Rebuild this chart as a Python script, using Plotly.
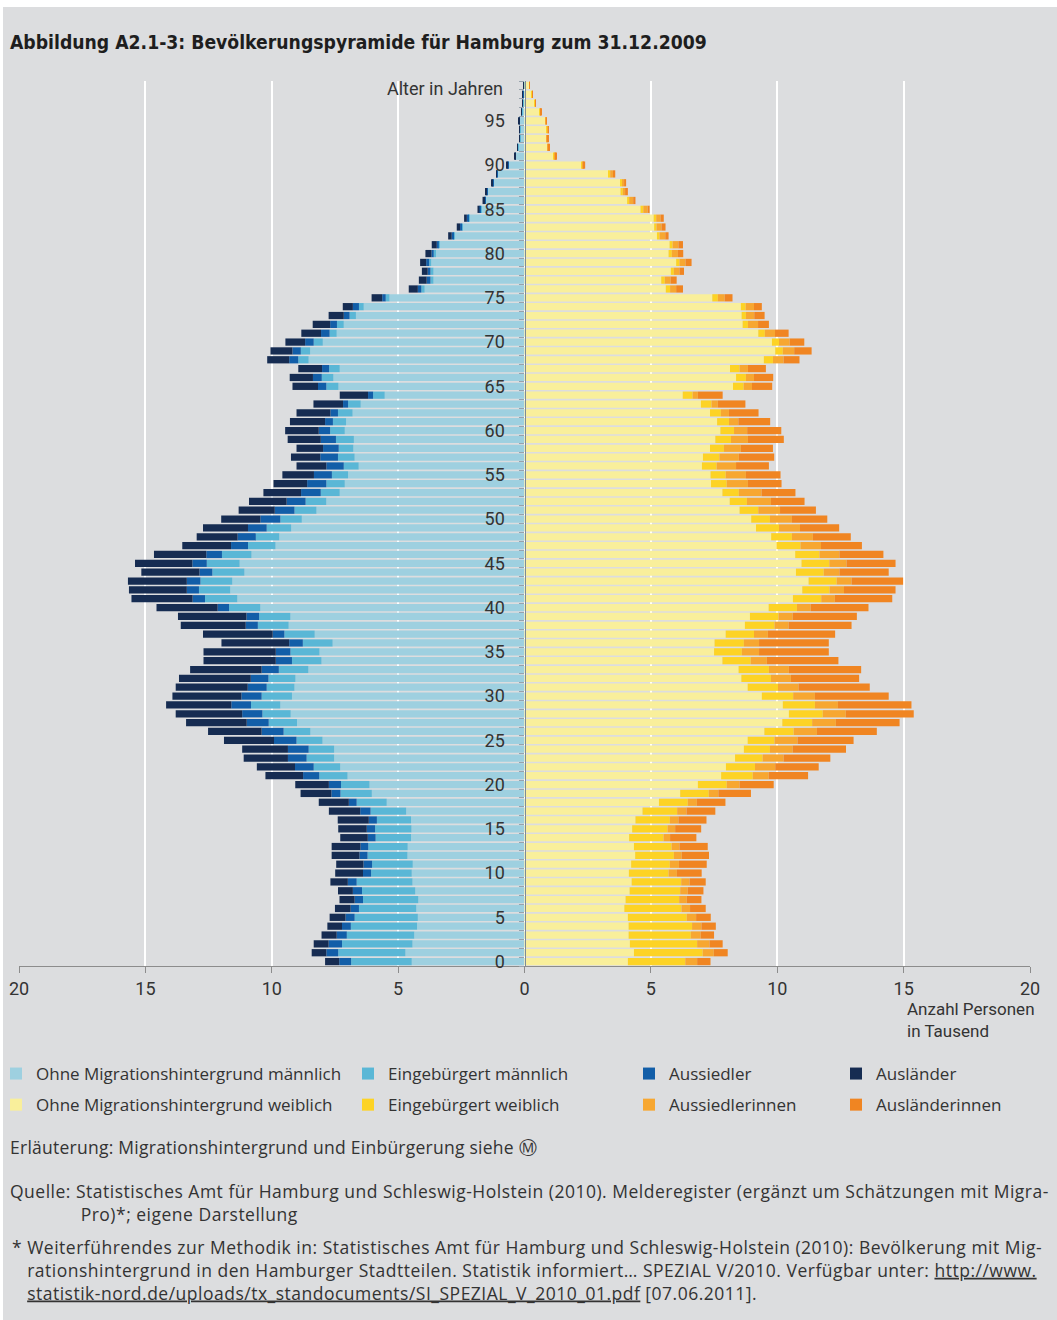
import plotly.graph_objects as go

ages = list(range(100))
age_ticks = list(range(0, 100, 5))

m_ohne = [4.46, 4.71, 4.43, 4.36, 4.25, 4.22, 4.28, 4.20, 4.32, 4.43,
          4.46, 4.42, 4.63, 4.62, 4.49, 4.47, 4.49, 4.68, 5.45, 6.04,
          6.13, 7.00, 7.29, 7.53, 7.53, 7.99, 8.47, 9.00, 9.25, 9.66,
          9.20, 9.10, 9.06, 8.55, 8.03, 8.11, 7.59, 8.30, 9.33, 9.26,
          10.45, 11.36, 11.64, 11.56, 11.08, 11.27, 10.80, 9.85, 9.70, 9.23,
          8.81, 8.23, 7.84, 7.31, 7.11, 6.98, 6.56, 6.72, 6.77, 6.75,
          7.11, 7.06, 6.80, 6.48, 5.53, 7.36, 7.56, 7.31, 8.54, 8.48,
          7.98, 7.43, 7.15, 6.67, 6.36, 5.34, 3.95, 3.60, 3.60, 3.69,
          3.52, 3.35, 2.77, 2.44, 2.18, 1.70, 1.53, 1.45, 1.21, 1.06,
          0.63, 0.34, 0.25, 0.17, 0.17, 0.18, 0.09, 0.05, 0.04, 0.01]
m_eing = [2.40, 2.66, 2.79, 2.67, 2.62, 2.50, 2.27, 2.19, 2.11, 2.21,
          1.61, 1.61, 1.58, 1.56, 1.40, 1.44, 1.35, 1.41, 1.19, 1.24,
          1.13, 1.12, 1.05, 1.09, 1.01, 1.03, 1.06, 1.12, 1.12, 1.16,
          1.20, 1.10, 1.07, 1.17, 1.17, 1.15, 1.18, 1.20, 1.22, 1.24,
          1.24, 1.28, 1.24, 1.26, 1.27, 1.30, 1.17, 1.09, 0.93, 0.97,
          0.85, 0.87, 0.82, 0.75, 0.73, 0.64, 0.59, 0.66, 0.58, 0.71,
          0.58, 0.52, 0.58, 0.50, 0.46, 0.48, 0.46, 0.42, 0.41, 0.37,
          0.36, 0.28, 0.27, 0.25, 0.19, 0.15, 0.13, 0.12, 0.12, 0.08,
          0.07, 0.04, 0.04, 0.03, 0.04, 0.04, 0.03, 0.03, 0.03, 0.01,
          0.02, 0.01, 0.01, 0.01, 0.01, 0.01, 0.01, 0.01, 0.01, 0.01]
m_aussiedler = [0.47, 0.47, 0.53, 0.40, 0.35, 0.36, 0.33, 0.33, 0.36, 0.35,
                0.32, 0.34, 0.32, 0.31, 0.31, 0.33, 0.32, 0.41, 0.31, 0.36,
                0.48, 0.64, 0.74, 0.74, 0.82, 0.89, 0.87, 0.87, 0.80, 0.78,
                0.80, 0.75, 0.70, 0.68, 0.64, 0.58, 0.54, 0.46, 0.48, 0.50,
                0.45, 0.49, 0.48, 0.54, 0.51, 0.57, 0.62, 0.67, 0.72, 0.74,
                0.79, 0.78, 0.75, 0.78, 0.76, 0.71, 0.69, 0.70, 0.62, 0.60,
                0.45, 0.31, 0.30, 0.20, 0.20, 0.33, 0.35, 0.28, 0.36, 0.33,
                0.34, 0.34, 0.27, 0.23, 0.24, 0.14, 0.14, 0.15, 0.11, 0.12,
                0.09, 0.08, 0.07, 0.08, 0.06, 0.04, 0.03, 0.02, 0.03, 0.02,
                0.03, 0.01, 0.01, 0.01, 0.01, 0.01, 0.01, 0.01, 0.01, 0.01]
m_auslaender = [0.56, 0.58, 0.59, 0.60, 0.58, 0.63, 0.62, 0.60, 0.59, 0.69,
                1.10, 1.08, 1.10, 1.14, 1.09, 1.13, 1.23, 1.24, 1.19, 1.22,
                1.33, 1.49, 1.51, 1.75, 1.81, 1.98, 2.12, 2.40, 2.63, 2.58,
                2.73, 2.85, 2.84, 2.83, 2.86, 2.86, 2.68, 2.76, 2.57, 2.71,
                2.42, 2.42, 2.29, 2.33, 2.30, 2.27, 2.07, 1.93, 1.62, 1.78,
                1.55, 1.43, 1.49, 1.49, 1.33, 1.25, 1.18, 1.16, 1.05, 1.31,
                1.33, 1.39, 1.34, 1.17, 1.12, 1.01, 0.92, 0.94, 0.87, 0.87,
                0.78, 0.78, 0.69, 0.60, 0.40, 0.42, 0.36, 0.31, 0.23, 0.24,
                0.24, 0.20, 0.14, 0.13, 0.11, 0.08, 0.07, 0.04, 0.04, 0.03,
                0.03, 0.02, 0.02, 0.02, 0.02, 0.02, 0.01, 0.01, 0.01, 0.01]

w_ohne = [4.09, 4.33, 4.17, 4.12, 4.12, 4.09, 3.95, 4.00, 4.16, 4.24,
          4.13, 4.22, 4.38, 4.33, 4.14, 4.26, 4.39, 4.67, 5.32, 6.16,
          6.86, 7.78, 7.97, 8.33, 8.68, 8.83, 9.49, 10.20, 10.46, 10.22,
          9.39, 8.83, 8.58, 8.47, 7.83, 7.50, 7.52, 7.96, 8.72, 8.92,
          9.66, 10.62, 10.99, 11.24, 10.74, 10.96, 10.71, 9.97, 9.76, 9.16,
          8.97, 8.51, 8.12, 7.83, 7.38, 7.36, 7.02, 7.06, 7.34, 7.55,
          7.75, 7.62, 7.34, 6.98, 6.26, 8.25, 8.37, 8.13, 9.47, 9.92,
          9.79, 9.25, 8.63, 8.59, 8.56, 7.43, 5.59, 5.41, 5.79, 6.00,
          5.70, 5.74, 5.24, 5.13, 5.11, 4.59, 4.06, 3.80, 3.80, 3.34,
          2.24, 1.15, 0.90, 0.87, 0.88, 0.82, 0.61, 0.41, 0.29, 0.18]
w_eing = [2.27, 2.72, 2.66, 2.46, 2.51, 2.33, 2.26, 2.12, 2.00, 1.96,
          1.57, 1.53, 1.53, 1.49, 1.36, 1.40, 1.36, 1.37, 1.14, 1.13,
          1.14, 1.25, 1.15, 1.09, 1.03, 1.06, 1.16, 1.18, 1.34, 1.27,
          1.24, 1.20, 1.17, 1.20, 1.12, 1.10, 1.16, 1.12, 1.17, 1.13,
          1.12, 1.12, 1.08, 1.11, 1.10, 1.10, 0.96, 0.95, 0.82, 0.91,
          0.74, 0.74, 0.68, 0.65, 0.62, 0.60, 0.58, 0.65, 0.55, 0.62,
          0.54, 0.47, 0.43, 0.42, 0.39, 0.42, 0.39, 0.38, 0.36, 0.30,
          0.28, 0.26, 0.21, 0.17, 0.19, 0.22, 0.17, 0.14, 0.12, 0.13,
          0.13, 0.12, 0.10, 0.09, 0.10, 0.11, 0.08, 0.09, 0.07, 0.05,
          0.04, 0.02, 0.02, 0.02, 0.02, 0.02, 0.01, 0.01, 0.01, 0.01]
w_aussiedlerinnen = [0.47, 0.44, 0.49, 0.39, 0.37, 0.37, 0.34, 0.30, 0.30, 0.33,
                     0.33, 0.36, 0.31, 0.31, 0.26, 0.30, 0.34, 0.37, 0.36, 0.38,
                     0.51, 0.63, 0.80, 0.83, 0.90, 0.91, 0.92, 0.94, 0.91, 0.91,
                     0.86, 0.81, 0.79, 0.79, 0.64, 0.68, 0.60, 0.55, 0.56, 0.56,
                     0.54, 0.54, 0.57, 0.59, 0.62, 0.68, 0.79, 0.81, 0.83, 0.83,
                     0.87, 0.86, 0.95, 0.90, 0.84, 0.80, 0.77, 0.77, 0.67, 0.67,
                     0.52, 0.37, 0.32, 0.25, 0.21, 0.33, 0.32, 0.33, 0.42, 0.45,
                     0.42, 0.40, 0.40, 0.33, 0.33, 0.27, 0.24, 0.23, 0.22, 0.24,
                     0.24, 0.23, 0.23, 0.20, 0.17, 0.17, 0.16, 0.09, 0.07, 0.11,
                     0.07, 0.04, 0.03, 0.03, 0.03, 0.02, 0.02, 0.01, 0.01, 0.01]
w_auslaenderinnen = [0.53, 0.55, 0.52, 0.53, 0.57, 0.58, 0.62, 0.58, 0.62, 0.64,
                     0.98, 1.10, 1.08, 1.12, 1.04, 1.03, 1.11, 1.14, 1.13, 1.29,
                     1.35, 1.56, 1.72, 1.85, 2.11, 2.22, 2.37, 2.52, 2.69, 2.91,
                     2.92, 2.82, 2.70, 2.86, 2.83, 2.76, 2.76, 2.66, 2.49, 2.54,
                     2.29, 2.27, 2.04, 2.04, 1.95, 1.94, 1.74, 1.62, 1.50, 1.55,
                     1.40, 1.42, 1.33, 1.34, 1.33, 1.37, 1.30, 1.40, 1.27, 1.42,
                     1.35, 1.26, 1.17, 1.09, 0.98, 0.80, 0.76, 0.71, 0.63, 0.69,
                     0.58, 0.54, 0.43, 0.41, 0.31, 0.31, 0.27, 0.24, 0.18, 0.24,
                     0.21, 0.18, 0.13, 0.16, 0.13, 0.08, 0.09, 0.11, 0.08, 0.09,
                     0.05, 0.06, 0.04, 0.03, 0.03, 0.02, 0.02, 0.02, 0.02, 0.01]

x_ticks = [-20, -15, -10, -5, 0, 5, 10, 15, 20]
x_ticklabels = ["20", "15", "10", "5", "0", "5", "10", "15", "20"]

BG = "#DCDDDF"
TEXT = "#333333"
FONT = "Roboto, 'Open Sans', 'DejaVu Sans', sans-serif"
NOTE_FONT = "'Open Sans', Roboto, 'DejaVu Sans', sans-serif"
TITLE_FONT = "'Liberation Sans Narrow', 'DejaVu Sans Condensed', 'Arial Narrow', sans-serif"

W, H = 1057, 1320
L, R, T, B = 19, 27, 81, 354
PW, PH = W - L - R, H - T - B


def px_x(px):
    return (px - L) / PW


def px_y(py):
    return (H - B - py) / PH


def spaced(txt, ls=0.5):
    return "<span style='letter-spacing:%spx'>%s</span>" % (ls, txt)


series = [
    ("Ohne Migrationshintergrund männlich", m_ohne, -1, "#9ED0E0", "legend"),
    ("Eingebürgert männlich", m_eing, -1, "#5AB7D6", "legend2"),
    ("Aussiedler", m_aussiedler, -1, "#125EA8", "legend3"),
    ("Ausländer", m_auslaender, -1, "#162C52", "legend4"),
    ("Ohne Migrationshintergrund weiblich", w_ohne, 1, "#F9EF9B", "legend"),
    ("Eingebürgert weiblich", w_eing, 1, "#FDD325", "legend2"),
    ("Aussiedlerinnen", w_aussiedlerinnen, 1, "#F7A731", "legend3"),
    ("Ausländerinnen", w_auslaenderinnen, 1, "#F08522", "legend4"),
]

fig = go.Figure()
for name, vals, sign, color, leg in series:
    fig.add_trace(go.Bar(
        x=[sign * v for v in vals],
        y=ages,
        orientation="h",
        name=name,
        legend=leg,
        legendgroup=name,
        marker=dict(color=color, line=dict(width=0)),
        customdata=vals,
        hovertemplate=name + "<br>Alter %{y}: %{customdata:.2f} Tsd.<extra></extra>",
    ))

legend_common = dict(
    orientation="v",
    xanchor="left",
    yanchor="top",
    bgcolor="rgba(0,0,0,0)",
    font=dict(family=NOTE_FONT, size=17, color=TEXT),
    tracegroupgap=6,
    itemclick=False,
    itemdoubleclick=False,
)

fig.update_layout(
    width=W,
    height=H,
    margin=dict(l=L, r=R, t=T, b=B, autoexpand=False),
    paper_bgcolor="white",
    plot_bgcolor="rgba(0,0,0,0)",
    barmode="relative",
    bargap=0.18,
    font=dict(family=FONT, size=17, color=TEXT),
    legend=dict(x=px_x(-4), y=px_y(1056), **legend_common),
    legend2=dict(x=px_x(348), y=px_y(1056), **legend_common),
    legend3=dict(x=px_x(629), y=px_y(1056), **legend_common),
    legend4=dict(x=px_x(836), y=px_y(1056), **legend_common),
    xaxis=dict(
        range=[-20, 20],
        tickmode="array",
        tickvals=x_ticks,
        ticktext=x_ticklabels,
        showgrid=True,
        gridcolor="white",
        gridwidth=1.5,
        zeroline=False,
        showline=True,
        linecolor="#8C8C8C",
        linewidth=1,
        ticks="outside",
        ticklen=6,
        tickcolor="#8C8C8C",
        tickfont=dict(family=FONT, size=18, color=TEXT),
        fixedrange=True,
    ),
    yaxis=dict(
        range=[-0.5, 99.5],
        anchor="free",
        position=0.5,
        side="left",
        tickmode="array",
        tickvals=age_ticks,
        ticktext=[str(a) for a in age_ticks],
        ticks="",
        ticklabelstandoff=16,
        tickfont=dict(family=FONT, size=18, color=TEXT),
        showgrid=False,
        zeroline=False,
        showline=True,
        linecolor="#7E8B97",
        linewidth=1.2,
        minor=dict(ticks="outside", ticklen=5, tickcolor="#98A3AD", tickwidth=1,
                   tickmode="linear", tick0=-0.5, dtick=1, showgrid=False),
        fixedrange=True,
    ),
    shapes=[
        dict(type="rect", xref="paper", yref="paper", layer="below",
             x0=px_x(3), x1=px_x(W + 2), y0=px_y(7), y1=px_y(H + 2),
             fillcolor=BG, line=dict(width=0)),
    ],
)

ann = []
ann.append(dict(
    text="<b>Abbildung A2.1-3: Bevölkerungspyramide für Hamburg zum 31.12.2009</b>",
    xref="paper", yref="paper", x=px_x(8), y=px_y(42), xanchor="left", yanchor="middle",
    showarrow=False, font=dict(family=TITLE_FONT, size=19.2, color="#1E1E1E"),
))
ann.append(dict(
    text="Alter in Jahren", xref="x", yref="y", x=0, y=99, xshift=-20, yshift=-3,
    xanchor="right", yanchor="middle", showarrow=False,
    font=dict(family=FONT, size=18, color=TEXT),
))
ann.append(dict(
    text="Anzahl Personen<br>in Tausend", xref="paper", yref="paper",
    x=px_x(905), y=px_y(997), xanchor="left", yanchor="top", align="left",
    showarrow=False, font=dict(family=FONT, size=17, color=TEXT),
))

indent_q = "&nbsp;" * 14
indent_f = "&nbsp;" * 3
notes = [
    (8, 1147, spaced("Erläuterung: Migrationshintergrund und Einbürgerung siehe Ⓜ", 0.25)),
    (8, 1202, spaced("Quelle: Statistisches Amt für Hamburg und Schleswig-Holstein (2010). "
                     "Melderegister (ergänzt um Schätzungen mit Migra-")
     + "<br>" + spaced(indent_q + "Pro)*; eigene Darstellung")),
    (10, 1270, spaced("* Weiterführendes zur Methodik in: Statistisches Amt für Hamburg und "
                      "Schleswig-Holstein (2010): Bevölkerung mit Mig-")
     + "<br>" + spaced(indent_f + "rationshintergrund in den Hamburger Stadtteilen. Statistik informiert… "
                       "SPEZIAL V/2010. Verfügbar unter: <u>http://www.</u>")
     + "<br>" + spaced(indent_f + "<u>statistik-nord.de/uploads/tx_standocuments/SI_SPEZIAL_V_2010_01.pdf</u>"
                       " [07.06.2011].")),
]
for nx, ny, txt in notes:
    ann.append(dict(
        text=txt, xref="paper", yref="paper", x=px_x(nx), y=px_y(ny),
        xanchor="left", yanchor="middle", showarrow=False, align="left",
        font=dict(family=NOTE_FONT, size=17.5, color=TEXT),
    ))

fig.update_layout(annotations=ann)

fig.write_html("out.html", config={"displayModeBar": False},
               post_script="document.body.style.margin='0px';")
